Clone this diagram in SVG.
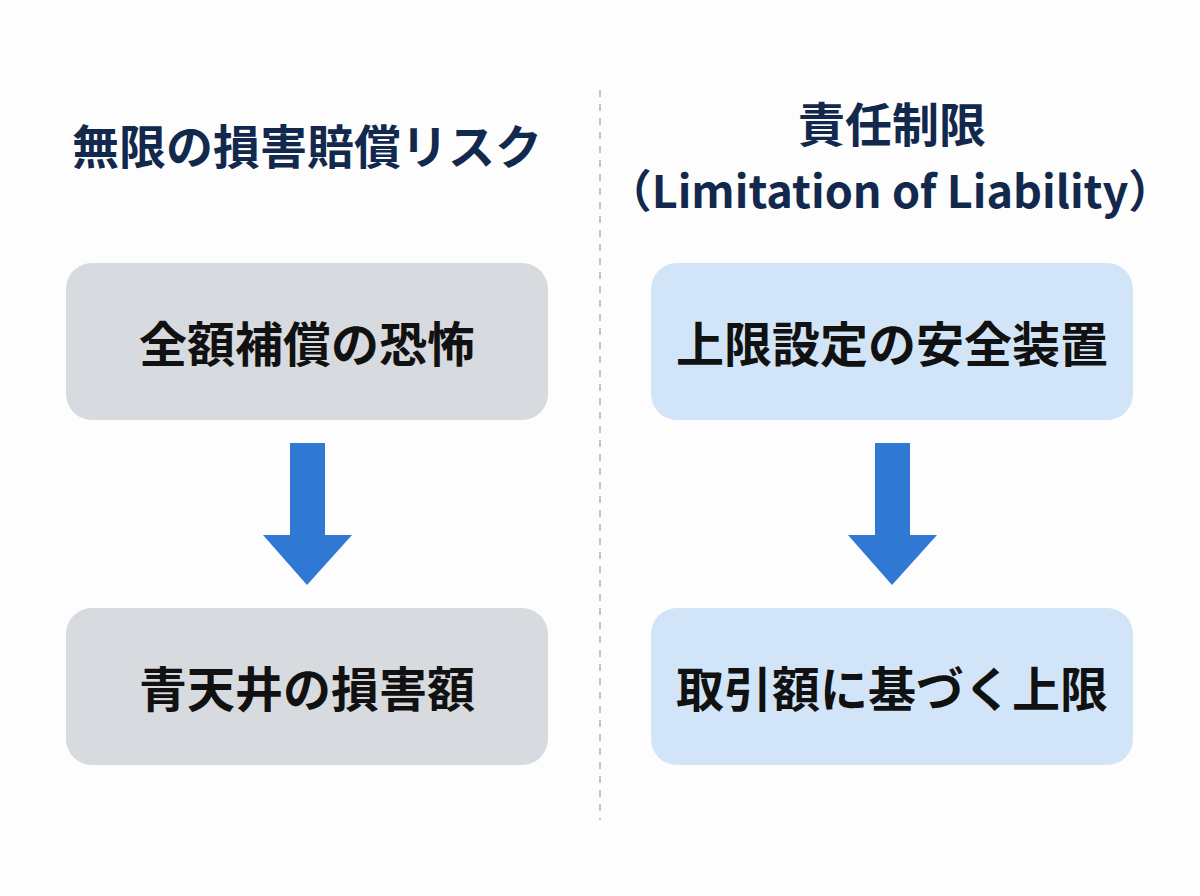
<svg xmlns="http://www.w3.org/2000/svg" width="1200" height="896" viewBox="0 0 1200 896">
<style>
.t{font-family:"Noto Sans CJK JP","Noto Sans",sans-serif;font-weight:700;text-anchor:middle}
.h{fill:#12294d;font-size:47px}
.b{fill:#111;font-size:48px}
.g{fill:#d7dade}
.l{fill:#d2e5f8}
.a{fill:#2f79d5}
</style>
<rect width="1200" height="896" fill="#fdfdfd"/>
<line x1="600" y1="90" x2="600" y2="820" stroke="#c4c4c4" stroke-width="2" stroke-dasharray="7,7"/>
<text class="t h" x="307" y="164">無限の損害賠償リスク</text>
<text class="t h" x="892" y="142">責任制限</text>
<text class="t h" x="890" y="208" style="font-size:45px">（Limitation of Liability）</text>
<g id="n1"><rect class="g" x="66" y="263" width="482" height="157" rx="26"/><text class="t b" x="307" y="362">全額補償の恐怖</text></g>
<g id="n2"><rect class="g" x="66" y="608" width="482" height="157" rx="26"/><text class="t b" x="307" y="707">青天井の損害額</text></g>
<g id="n3"><rect class="l" x="651" y="263" width="482" height="157" rx="26"/><text class="t b" x="892" y="362">上限設定の安全装置</text></g>
<g id="n4"><rect class="l" x="651" y="608" width="482" height="157" rx="26"/><text class="t b" x="892" y="707">取引額に基づく上限</text></g>
<g id="connectors">
<polygon class="a" points="290,443 325,443 325,535 352,535 307,585 263,535 290,535"/>
<polygon class="a" points="875,443 910,443 910,535 937,535 892,585 848,535 875,535"/>
</g>
</svg>
